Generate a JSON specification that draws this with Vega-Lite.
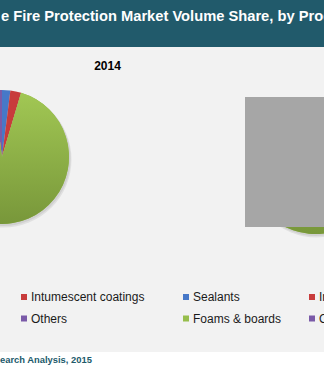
{
  "$schema": "https://vega.github.io/schema/vega-lite/v6.json",
  "width": 324,
  "height": 370,
  "autosize": "none",
  "padding": 0,
  "background": "white",
  "config": {
    "view": {"stroke": null},
    "font": "Liberation Sans",
    "legend": {
      "symbolType": "square",
      "symbolSize": 36,
      "symbolStrokeWidth": 0,
      "labelFont": "Liberation Sans",
      "labelFontSize": 12,
      "labelColor": "#1a1a1a",
      "labelOffset": 1,
      "columnPadding": 24,
      "rowPadding": 9.5,
      "padding": 0,
      "offset": 0
    }
  },
  "datasets": {
    "y2014": [
      {"product": "Sealants", "share": 2.0, "rank": 1},
      {"product": "Intumescent coatings", "share": 2.6, "rank": 2},
      {"product": "Foams & boards", "share": 93.4, "rank": 3},
      {"product": "Others", "share": 2.0, "rank": 4}
    ],
    "y2020": [
      {"product": "Sealants", "share": 2.3, "rank": 1},
      {"product": "Intumescent coatings", "share": 3.0, "rank": 2},
      {"product": "Foams & boards", "share": 92.3, "rank": 3},
      {"product": "Others", "share": 2.4, "rank": 4}
    ],
    "one": [{}]
  },
  "resolve": {"legend": {"color": "independent"}},
  "layer": [
    {"data": {"name": "one"}, "mark": {"type": "rect", "x": 0, "x2": 324, "y": 47, "y2": 352, "fill": "#F2F2F2"}},
    {"data": {"name": "one"}, "mark": {"type": "rect", "x": 0, "x2": 324, "y": 0, "y2": 47, "fill": "#215A6B"}},
    {"data": {"name": "one"}, "mark": {"type": "text", "text": "e Fire Protection Market Volume Share, by Product", "x": 1, "y": 17, "align": "left", "baseline": "middle", "font": "Liberation Sans", "fontWeight": "bold", "fontSize": 14.7, "fill": "white"}},
    {"data": {"name": "one"}, "mark": {"type": "rule", "x": 152.5, "x2": 152.5, "y": 47, "y2": 353, "stroke": "#7F7F7F", "strokeWidth": 1}, "encoding": {}},
    {"data": {"name": "one"}, "mark": {"type": "rule", "x": 0, "x2": 324, "y": 352.5, "y2": 352.5, "stroke": "#000000", "strokeWidth": 1}, "encoding": {}},
    {"data": {"name": "one"}, "mark": {"type": "text", "text": "2014", "x": 107.5, "y": 66, "align": "center", "baseline": "middle", "font": "Liberation Sans", "fontWeight": "bold", "fontSize": 12, "fill": "#000000"}},
    {"data": {"name": "one"}, "mark": {"type": "arc", "x": 3.5, "y": 159.5, "radius": 68, "theta": 0, "theta2": 6.2832, "fill": "#000000", "opacity": 0.07}},
    {"data": {"name": "one"}, "mark": {"type": "arc", "x": 3, "y": 158.5, "radius": 67.5, "theta": 0, "theta2": 6.2832, "fill": "#000000", "opacity": 0.07}},
    {
      "data": {"name": "y2014"},
      "mark": {"type": "arc", "x": 2, "y": 157, "radius": 67},
      "encoding": {
        "theta": {"field": "share", "type": "quantitative", "stack": true},
        "order": {"field": "rank", "type": "quantitative"},
        "color": {
          "field": "product", "type": "nominal",
          "sort": ["Sealants", "Intumescent coatings", "Foams & boards", "Others"],
          "scale": {"domain": ["Sealants", "Intumescent coatings", "Foams & boards", "Others"], "range": ["#4678C8", "#C83C3C", "#97BE4C", "#7A5AA8"]},
          "legend": {"orient": "none", "direction": "horizontal", "legendX": -108, "legendY": 291, "columns": 2, "title": null}
        }
      }
    },
    {
      "data": {"name": "y2014"},
      "mark": {"type": "arc", "x": 2, "y": 157, "radius": 67, "fill": {"gradient": "linear", "x1": 0, "y1": 0, "x2": 0, "y2": 1, "stops": [{"offset": 0, "color": "#A2C854"}, {"offset": 1, "color": "#78973A"}]}},
      "encoding": {
        "theta": {"field": "share", "type": "quantitative", "stack": true},
        "order": {"field": "rank", "type": "quantitative"},
        "opacity": {"condition": {"test": "datum.product === 'Foams & boards'", "value": 1}, "value": 0}
      }
    },
    {"data": {"name": "one"}, "mark": {"type": "arc", "x": 316.5, "y": 169.5, "radius": 68, "theta": 0, "theta2": 6.2832, "fill": "#000000", "opacity": 0.07}},
    {"data": {"name": "one"}, "mark": {"type": "arc", "x": 316, "y": 168.5, "radius": 67.5, "theta": 0, "theta2": 6.2832, "fill": "#000000", "opacity": 0.07}},
    {
      "data": {"name": "y2020"},
      "mark": {"type": "arc", "x": 315, "y": 167, "radius": 67},
      "encoding": {
        "theta": {"field": "share", "type": "quantitative", "stack": true},
        "order": {"field": "rank", "type": "quantitative"},
        "color": {
          "field": "product", "type": "nominal",
          "sort": ["Sealants", "Intumescent coatings", "Foams & boards", "Others"],
          "scale": {"domain": ["Sealants", "Intumescent coatings", "Foams & boards", "Others"], "range": ["#4678C8", "#C83C3C", "#97BE4C", "#7A5AA8"]},
          "legend": {"orient": "none", "direction": "horizontal", "legendX": 180, "legendY": 291, "columns": 2, "title": null}
        }
      }
    },
    {
      "data": {"name": "y2020"},
      "mark": {"type": "arc", "x": 315, "y": 167, "radius": 67, "fill": {"gradient": "linear", "x1": 0, "y1": 0, "x2": 0, "y2": 1, "stops": [{"offset": 0, "color": "#A2C854"}, {"offset": 1, "color": "#78973A"}]}},
      "encoding": {
        "theta": {"field": "share", "type": "quantitative", "stack": true},
        "order": {"field": "rank", "type": "quantitative"},
        "opacity": {"condition": {"test": "datum.product === 'Foams & boards'", "value": 1}, "value": 0}
      }
    },
    {"data": {"name": "one"}, "mark": {"type": "rect", "x": 245, "x2": 330, "y": 97, "y2": 227, "fill": "#A6A6A6"}},
    {"data": {"name": "one"}, "mark": {"type": "text", "text": "earch Analysis, 2015", "x": 0, "y": 363, "align": "left", "baseline": "alphabetic", "font": "Liberation Sans", "fontWeight": "bold", "fontSize": 9.4, "fill": "#215A6B"}}
  ]
}
